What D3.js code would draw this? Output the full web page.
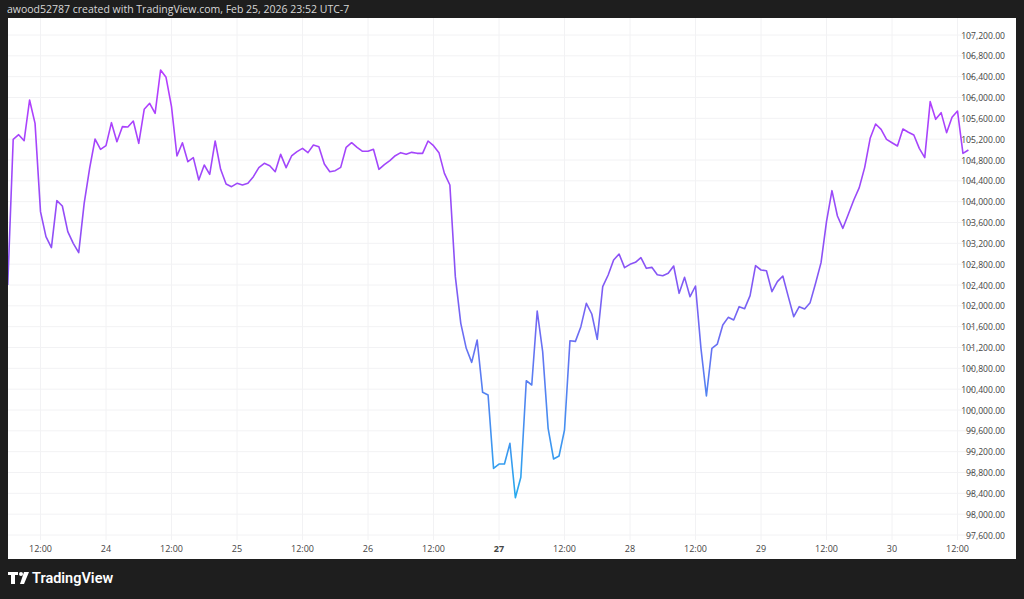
<!DOCTYPE html>
<html><head><meta charset="utf-8">
<script src="https://cdn.jsdelivr.net/npm/d3@7"></script>
<style>body{margin:0;background:#1e1e1e;overflow:hidden}svg{display:block;font-family:"Open Sans",Roboto,sans-serif}</style>
</head><body><svg id="c" width="1024" height="599"></svg>
<script>
// hourly closes, hour 0 = Feb 23 00:00 (first point 06:00)
const startHour = 6;
const prices = [
102400,105197,105286,105171,105952,105504,103808,103328,103117,104019,
103917,103424,103200,103020,103968,104640,105203,105005,105075,105517,
105152,105440,105434,105549,105120,105773,105888,105696,106528,106388,
105824,104877,105132,104768,104845,104416,104704,104525,105165,104621,
104339,104288,104352,104320,104352,104480,104653,104736,104691,104576,
104909,104653,104877,104960,105024,104941,105088,105056,104723,104576,
104595,104659,105044,105132,105044,104967,104967,105005,104621,104710,
104787,104883,104941,104909,104947,104928,104928,105165,105075,104941,
104544,104320,102560,101664,101184,100915,101344,100340,100288,98880,
98963,98963,99360,98316,98708,100563,100480,101901,101120,99648,
99059,99117,99616,101331,101318,101600,102048,101843,101357,102368,
102592,102880,102995,102733,102797,102835,102925,102720,102739,102598,
102579,102624,102765,102240,102547,102176,102381,101184,100269,101184,
101267,101632,101779,101728,101984,101946,102195,102771,102688,102675,
102272,102464,102573,102176,101792,101984,101939,102061,102432,102829,
103616,104211,103725,103488,103757,104032,104269,104659,105216,105491,
105389,105197,105132,105069,105395,105332,105280,105024,104845,105920,
105581,105709,105325,105620,105741,104928,104992];
const priceTicks = d3.range(97600, 107201, 400);
const timeTickLabels = ["12:00","24","12:00","25","12:00","26","12:00","27","12:00","28","12:00","29","12:00","30","12:00"];
const timeTicksAll = [12,24,36,48,60,72,84,96,108,120,132,144,156,168,180];
const boldLabel = "27";
const header = "awood52787 created with TradingView.com, Feb 25, 2026 23:52 UTC-7";

const svg = d3.select("#c");
const L=8, R=970, T=18, B=540;
const x = d3.scaleLinear().domain([24,48]).range([106,237]);
const y = d3.scaleLinear().domain([97600,107200]).range([535,35]);

svg.append("text").attr("x",7).attr("y",13).attr("fill","#d8d8d8").attr("font-size",10.5).text(header);
svg.append("rect").attr("x",8).attr("y",18).attr("width",1008).attr("height",541).attr("fill","#fff");

svg.append("clipPath").attr("id","pc").append("rect").attr("x",L).attr("y",T).attr("width",R-L).attr("height",B-T);
const g = svg.append("g").attr("clip-path","url(#pc)");
g.selectAll(".hg").data(priceTicks).join("line").attr("x1",L).attr("x2",R)
 .attr("y1",d=>y(d)).attr("y2",d=>y(d)).attr("stroke","#f2f2f4");
g.selectAll(".vg").data(timeTicksAll).join("line").attr("y1",T).attr("y2",B)
 .attr("x1",d=>x(d)).attr("x2",d=>x(d)).attr("stroke","#f2f2f4");

const data = prices.map((p,i)=>({h:startHour+i,p}));
const defs = svg.append("defs");
const grad = defs.append("linearGradient").attr("id","lg").attr("gradientUnits","userSpaceOnUse")
 .attr("x1",0).attr("x2",0).attr("y1",y(d3.max(prices))).attr("y2",y(d3.min(prices)));
grad.append("stop").attr("offset","0%").attr("stop-color","#b73cff");
grad.append("stop").attr("offset","45%").attr("stop-color","#8a52f5");
grad.append("stop").attr("offset","100%").attr("stop-color","#27aaee");
g.append("path").datum(data).attr("fill","none").attr("stroke","url(#lg)").attr("stroke-width",1.6)
 .attr("stroke-linejoin","round")
 .attr("d",d3.line().x(d=>x(d.h)).y(d=>y(d.p)));

// price axis
const pa = svg.append("g");
pa.selectAll("line").data(priceTicks).join("line").attr("x1",970).attr("x2",973)
 .attr("y1",d=>y(d)).attr("y2",d=>y(d)).attr("stroke","#999");
pa.selectAll("text").data(priceTicks).join("text").attr("x",1005).attr("y",d=>y(d)+3.5)
 .attr("text-anchor","end").attr("font-size",8.6).attr("fill","#444")
 .text(d=>d3.format(",.2f")(d));

// time axis
svg.append("clipPath").attr("id","tc").append("rect").attr("x",L).attr("y",B).attr("width",R-L).attr("height",20);
const ta = svg.append("g").attr("clip-path","url(#tc)");
ta.selectAll("text").data(timeTicksAll).join("text").attr("x",d=>x(d)).attr("y",552)
 .attr("text-anchor","middle").attr("font-size",9).attr("fill","#444")
 .attr("font-weight",(d,i)=>timeTickLabels[i]===boldLabel?"bold":"normal")
 .text((d,i)=>timeTickLabels[i]);

// footer logo
const lg = svg.append("g").attr("fill","#fff");
lg.append("path").attr("d","M8 572h10v3h-3v9h-4v-9h-3z");
lg.append("circle").attr("cx",21).attr("cy",574).attr("r",2);
lg.append("path").attr("d","M24 572h5l-5 12h-4z");
svg.append("text").attr("x",32).attr("y",583).attr("fill","#fff").attr("font-size",14.5)
 .attr("font-weight",600).attr("font-family","Roboto, sans-serif").text("TradingView");
</script></body></html>
